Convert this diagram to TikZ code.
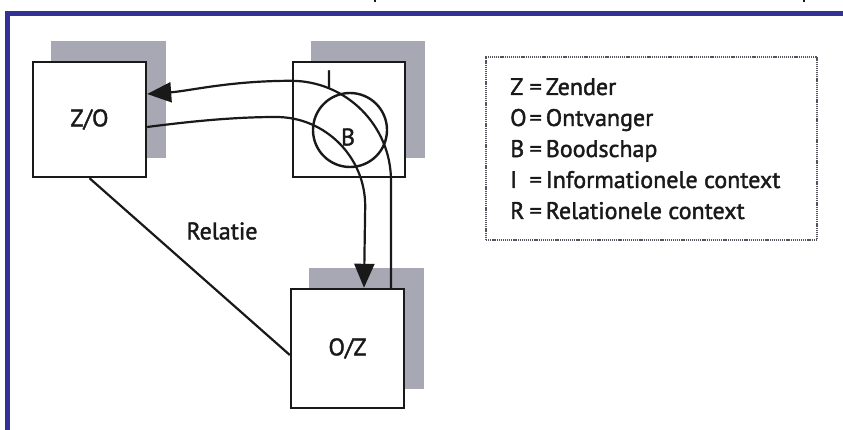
\documentclass[tikz,border=0pt]{standalone}
\usepackage{fontspec}
\setmainfont{PT Sans}[FakeBold=1.6]
\usetikzlibrary{arrows.meta,backgrounds,calc}
\definecolor{frameblue}{RGB}{50,50,150}
\definecolor{shadowgray}{RGB}{168,168,180}
\definecolor{ink}{RGB}{25,25,25}
\definecolor{legendline}{RGB}{85,85,95}
\newcommand{\legkey}[1]{\makebox[19.5pt][l]{#1}}
\begin{document}
\begin{tikzpicture}[x=1pt,y=-1pt,
  box/.style={draw=ink, line width=2.4pt, fill=white, inner sep=0pt,
    font=\fontsize{24}{28}\selectfont, text=ink},
  link/.style={draw=ink, line width=2.2pt},
  arrowend/.style={-{Triangle[length=24pt,width=20pt]}},
  lbl/.style={inner sep=0pt, font=\fontsize{24}{28}\selectfont, text=ink},
  legline/.style={lbl, anchor=base west},
]
\useasboundingbox (0,0) rectangle (843,430);

% page frame
\fill[frameblue] (5,11) rectangle (843,16);
\fill[frameblue] (5,11) rectangle (10,430);
% cut-off strokes above the frame
\draw[ink, line width=1.8pt] (375,0) -- (375,2.5);
\draw[ink, line width=1.8pt] (804,0) -- (804,2.5);

% boxes
\node[box, minimum width=113pt, minimum height=115pt] (ZO) at (89.5,119.5) {Z/O};
\node[box, minimum width=112pt, minimum height=115pt] (Ibox) at (349,119.5) {};
\node[box, minimum width=113pt, minimum height=119pt] (OZ) at (347.5,348.5) {O/Z};

% drop shadows behind the boxes
\begin{scope}[on background layer]
  \fill[white] (0,0) rectangle (843,430);
  \foreach \n in {ZO,Ibox,OZ}
    \fill[shadowgray] ([shift={(19pt,20pt)}]\n.south west)
      rectangle ([shift={(19pt,20pt)}]\n.north east);
\end{scope}

% message circle and labels
\node[draw=ink, line width=2.4pt, circle, minimum size=74pt, inner sep=0pt] (msg) at (350,130) {};
\node[lbl] (lblB) at (348,137) {B};
\node[lbl] (lblI) at (329,79) {I};
\node[lbl] (lblRel) at (222,231) {Relatie};

% relation line
\draw[link] (ZO.south) -- ([yshift=-6.5pt]OZ.west);

% message going back to Z/O
\draw[link, arrowend] ([xshift=43.5pt]OZ.north) -- ++(0,-107)
  .. controls +(0,-55.2) and +(55.2,0) .. ++(-100,-100)
  .. controls +(-61,0) and +(42,-3) .. ([yshift=25.5pt]ZO.east);

% message going from Z/O to O/Z
\draw[link, arrowend] ([yshift=-7.5pt]ZO.east)
  .. controls +(39,-5) and +(-45,0) .. ++(129,-10)
  .. controls +(49.1,0) and +(0,-49.1) .. ++(89,89)
  -- ([xshift=16.5pt]OZ.north);

% legend
\node[draw=legendline, line width=1.6pt, dash pattern=on 1.2pt off 0.9pt,
  minimum width=331pt, minimum height=183pt, inner sep=0pt] (legend) at (651.5,148.5) {};
\node[legline] (leg1) at (510,95) {\legkey{Z}=\,Zender};
\node[legline] (leg2) at (510,126) {\legkey{O}=\,Ontvanger};
\node[legline] (leg3) at (510,157) {\legkey{B}=\,Boodschap};
\node[legline] (leg4) at (510,188) {\legkey{I}=\,Informationele context};
\node[legline] (leg5) at (510,219) {\legkey{R}=\,Relationele context};
\end{tikzpicture}
\end{document}
